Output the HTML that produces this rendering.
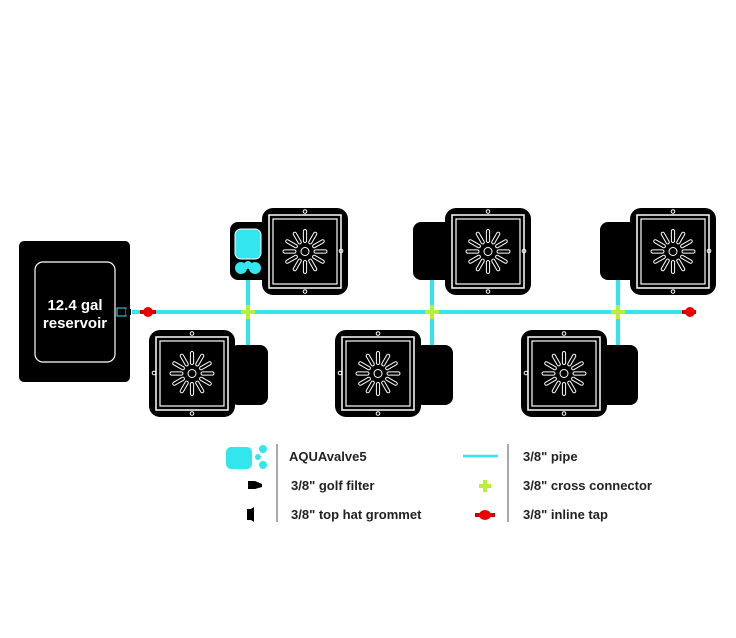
<!DOCTYPE html>
<html><head><style>body{margin:0;background:#fff}svg{display:block}text{font-family:"Liberation Sans",sans-serif}</style></head><body>
<svg width="736" height="638" viewBox="0 0 736 638" xmlns="http://www.w3.org/2000/svg">
<defs>
<g id="pot">
<rect x="0" y="0" width="86" height="87" rx="11" fill="#000"/>
<rect x="7" y="7" width="72" height="73" fill="none" stroke="#fff" stroke-width="1.5"/>
<rect x="11" y="11" width="64" height="65" fill="none" stroke="#fff" stroke-width="1.2"/>
<g transform="translate(43,43.5)" fill="none" stroke="#fff" stroke-width="1">
<circle r="4"/>
<g id="ray"><rect x="9" y="-1.6" width="13" height="3.2" rx="1.6"/></g>
<use href="#ray" transform="rotate(30)"/><use href="#ray" transform="rotate(60)"/><use href="#ray" transform="rotate(90)"/>
<use href="#ray" transform="rotate(120)"/><use href="#ray" transform="rotate(150)"/><use href="#ray" transform="rotate(180)"/>
<use href="#ray" transform="rotate(210)"/><use href="#ray" transform="rotate(240)"/><use href="#ray" transform="rotate(270)"/>
<use href="#ray" transform="rotate(300)"/><use href="#ray" transform="rotate(330)"/>
</g>
<g fill="none" stroke="#fff" stroke-width="1"><circle cx="43" cy="3.5" r="1.8"/><circle cx="43" cy="83.5" r="1.8"/></g>
</g>
</defs>
<g stroke="#33e6ee" stroke-width="4">
<line x1="132" y1="312" x2="690" y2="312"/>
<line x1="248" y1="272" x2="248" y2="348"/>
<line x1="432" y1="280" x2="432" y2="348"/>
<line x1="618" y1="280" x2="618" y2="348"/>
</g>
<rect x="230" y="222" width="40" height="58" rx="8" fill="#000"/>
<use href="#pot" x="262" y="208"/><circle cx="341" cy="251" r="1.8" fill="none" stroke="#fff"/>
<rect x="413" y="222" width="40" height="58" rx="8" fill="#000"/>
<use href="#pot" x="445" y="208"/><circle cx="524" cy="251" r="1.8" fill="none" stroke="#fff"/>
<rect x="600" y="222" width="40" height="58" rx="8" fill="#000"/>
<use href="#pot" x="630" y="208"/><circle cx="709" cy="251" r="1.8" fill="none" stroke="#fff"/>
<rect x="235" y="229" width="26" height="30" rx="6" fill="#33e6ee" stroke="#fff" stroke-width="1"/>
<circle cx="241" cy="268" r="6" fill="#33e6ee"/><circle cx="255" cy="268" r="6" fill="#33e6ee"/><circle cx="248" cy="265" r="4" fill="#33e6ee"/>
<rect x="230" y="345" width="38" height="60" rx="8" fill="#000"/>
<use href="#pot" x="149" y="330"/><circle cx="154" cy="373" r="1.8" fill="none" stroke="#fff"/>
<rect x="415" y="345" width="38" height="60" rx="8" fill="#000"/>
<use href="#pot" x="335" y="330"/><circle cx="340" cy="373" r="1.8" fill="none" stroke="#fff"/>
<rect x="600" y="345" width="38" height="60" rx="8" fill="#000"/>
<use href="#pot" x="521" y="330"/><circle cx="526" cy="373" r="1.8" fill="none" stroke="#fff"/>
<g stroke="#b6f03a" stroke-width="4">
<line x1="241" y1="312" x2="255" y2="312"/><line x1="248" y1="305" x2="248" y2="319"/>
<line x1="425" y1="312" x2="439" y2="312"/><line x1="432" y1="305" x2="432" y2="319"/>
<line x1="611" y1="312" x2="625" y2="312"/><line x1="618" y1="305" x2="618" y2="319"/>
</g>
<rect x="19" y="241" width="111" height="141" rx="5" fill="#000"/>
<rect x="35" y="262" width="80" height="100" rx="8" fill="none" stroke="#fff" stroke-width="1.2"/>
<text x="75" y="310" fill="#fff" font-size="15" font-weight="bold" text-anchor="middle">12.4 gal</text>
<text x="75" y="328" fill="#fff" font-size="15" font-weight="bold" text-anchor="middle">reservoir</text>
<rect x="117" y="308" width="9" height="8" fill="#000" stroke="#33e6ee" stroke-width="1"/>
<rect x="126" y="309" width="5" height="6" fill="#000"/>
<rect x="140" y="310" width="16" height="4" fill="#c00"/><circle cx="148" cy="312" r="5" fill="#e00"/>
<rect x="682" y="310" width="14" height="4" fill="#c00"/><circle cx="690" cy="312" r="5" fill="#e00"/>
<rect x="226" y="447" width="26" height="22" rx="5" fill="#33e6ee"/>
<circle cx="263" cy="449" r="4" fill="#33e6ee"/><circle cx="263" cy="465" r="4" fill="#33e6ee"/><circle cx="258" cy="457" r="3" fill="#33e6ee"/>
<path d="M248 481h7l7 3v3l-7 2h-7z" fill="#000"/>
<path d="M247 509h4l3-2v15l-3-2h-4z" fill="#000"/>
<line x1="277" y1="444" x2="277" y2="522" stroke="#555" stroke-width="1"/>
<line x1="508" y1="444" x2="508" y2="522" stroke="#555" stroke-width="1"/>
<line x1="463" y1="456" x2="498" y2="456" stroke="#33e6ee" stroke-width="2.5"/>
<g stroke="#b6f03a" stroke-width="4"><line x1="479" y1="486" x2="491" y2="486"/><line x1="485" y1="480" x2="485" y2="492"/></g>
<rect x="475" y="513" width="20" height="4" fill="#c00"/><ellipse cx="485" cy="515" rx="6" ry="5" fill="#e00"/>
<g font-size="13" font-weight="bold" fill="#222">
<text x="289" y="461">AQUAvalve5</text>
<text x="291" y="490">3/8" golf filter</text>
<text x="291" y="519">3/8" top hat grommet</text>
<text x="523" y="461">3/8" pipe</text>
<text x="523" y="490">3/8" cross connector</text>
<text x="523" y="519">3/8" inline tap</text>
</g>
</svg>
</body></html>
